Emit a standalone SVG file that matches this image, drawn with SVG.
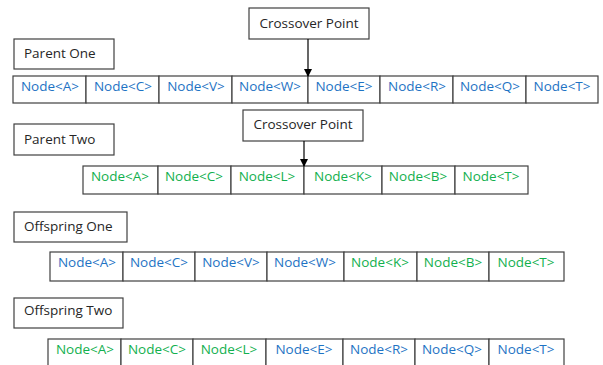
<svg xmlns="http://www.w3.org/2000/svg" width="603" height="365" viewBox="0 0 603 365">
<defs>
<marker id="ah" markerWidth="8" markerHeight="8" refX="7" refY="4" orient="auto" markerUnits="userSpaceOnUse">
<path d="M0,0 L8,4 L0,8 Z" fill="#000"/>
</marker>
<style>
.box{fill:#fff;stroke:#404040;stroke-width:1.2}
.cell{fill:#fff;stroke:#404040;stroke-width:1.2}
.lbl{font-family:"Open Sans","Liberation Sans",sans-serif;font-size:13.5px;fill:#262626}
.t{font-family:"Open Sans","Liberation Sans",sans-serif;font-size:13.5px;text-anchor:middle}
.b{fill:#1E73C4}
.g{fill:#12B04E}
.conn{stroke:#000;stroke-width:1.2;fill:none}
</style>
</defs>
<rect width="603" height="365" fill="#fff"/>

<g id="crossover1">
<rect class="box" x="249" y="8" width="120" height="31"/>
<text class="lbl" x="309" y="28" text-anchor="middle">Crossover Point</text>
</g>
<g id="parentOneLabel">
<rect class="box" x="14" y="39" width="100" height="30"/>
<text class="lbl" x="24" y="58">Parent One</text>
</g>
<g id="parentOne">
<rect class="cell" x="13" y="76" width="73" height="27"/>
<rect class="cell" x="86" y="76" width="73" height="27"/>
<rect class="cell" x="159" y="76" width="73" height="27"/>
<rect class="cell" x="232" y="76" width="76" height="27"/>
<rect class="cell" x="308" y="76" width="72" height="27"/>
<rect class="cell" x="380" y="76" width="73" height="27"/>
<rect class="cell" x="453" y="76" width="73" height="27"/>
<rect class="cell" x="526" y="76" width="72" height="27"/>
<text class="t b" x="50" y="91">Node&lt;A&gt;</text>
<text class="t b" x="123" y="91">Node&lt;C&gt;</text>
<text class="t b" x="196" y="91">Node&lt;V&gt;</text>
<text class="t b" x="270" y="91">Node&lt;W&gt;</text>
<text class="t b" x="344" y="91">Node&lt;E&gt;</text>
<text class="t b" x="417" y="91">Node&lt;R&gt;</text>
<text class="t b" x="490" y="91">Node&lt;Q&gt;</text>
<text class="t b" x="562" y="91">Node&lt;T&gt;</text>
</g>

<g id="parentTwoLabel">
<rect class="box" x="14" y="124" width="100" height="31"/>
<text class="lbl" x="24" y="143.5">Parent Two</text>
</g>
<g id="crossover2">
<rect class="box" x="243" y="110" width="120" height="31"/>
<text class="lbl" x="303" y="128.5" text-anchor="middle">Crossover Point</text>
</g>
<g id="parentTwo">
<rect class="cell" x="83" y="166" width="75" height="28"/>
<rect class="cell" x="158" y="166" width="73" height="28"/>
<rect class="cell" x="231" y="166" width="73" height="28"/>
<rect class="cell" x="304" y="166" width="78" height="28"/>
<rect class="cell" x="382" y="166" width="73" height="28"/>
<rect class="cell" x="455" y="166" width="73" height="28"/>
<text class="t g" x="120" y="181">Node&lt;A&gt;</text>
<text class="t g" x="194" y="181">Node&lt;C&gt;</text>
<text class="t g" x="267" y="181">Node&lt;L&gt;</text>
<text class="t g" x="343" y="181">Node&lt;K&gt;</text>
<text class="t g" x="418" y="181">Node&lt;B&gt;</text>
<text class="t g" x="491" y="181">Node&lt;T&gt;</text>
</g>

<g id="offspringOneLabel">
<rect class="box" x="14" y="212" width="113" height="30"/>
<text class="lbl" x="24" y="231">Offspring One</text>
</g>
<g id="offspringOne">
<rect class="cell" x="50" y="252" width="73" height="29"/>
<rect class="cell" x="123" y="252" width="72" height="29"/>
<rect class="cell" x="195" y="252" width="72" height="29"/>
<rect class="cell" x="267" y="252" width="77" height="29"/>
<rect class="cell" x="344" y="252" width="73" height="29"/>
<rect class="cell" x="417" y="252" width="72" height="29"/>
<rect class="cell" x="489" y="252" width="75" height="29"/>
<text class="t b" x="87" y="267">Node&lt;A&gt;</text>
<text class="t b" x="159" y="267">Node&lt;C&gt;</text>
<text class="t b" x="231" y="267">Node&lt;V&gt;</text>
<text class="t b" x="305" y="267">Node&lt;W&gt;</text>
<text class="t g" x="380" y="267">Node&lt;K&gt;</text>
<text class="t g" x="453" y="267">Node&lt;B&gt;</text>
<text class="t g" x="526" y="267">Node&lt;T&gt;</text>
</g>

<g id="offspringTwoLabel">
<rect class="box" x="14" y="298" width="109" height="30"/>
<text class="lbl" x="24" y="315">Offspring Two</text>
</g>
<g id="offspringTwo">
<rect class="cell" x="48" y="339" width="73" height="34"/>
<rect class="cell" x="121" y="339" width="72" height="34"/>
<rect class="cell" x="193" y="339" width="73" height="34"/>
<rect class="cell" x="266" y="339" width="77" height="34"/>
<rect class="cell" x="343" y="339" width="72" height="34"/>
<rect class="cell" x="415" y="339" width="74" height="34"/>
<rect class="cell" x="489" y="339" width="75" height="34"/>
<text class="t g" x="85" y="354">Node&lt;A&gt;</text>
<text class="t g" x="157" y="354">Node&lt;C&gt;</text>
<text class="t g" x="229" y="354">Node&lt;L&gt;</text>
<text class="t b" x="304" y="354">Node&lt;E&gt;</text>
<text class="t b" x="379" y="354">Node&lt;R&gt;</text>
<text class="t b" x="452" y="354">Node&lt;Q&gt;</text>
<text class="t b" x="526" y="354">Node&lt;T&gt;</text>
</g>

<g id="connectors">
<line class="conn" x1="308" y1="39" x2="308" y2="76" marker-end="url(#ah)"/>
<line class="conn" x1="304" y1="141" x2="304" y2="166" marker-end="url(#ah)"/>
</g>
</svg>
